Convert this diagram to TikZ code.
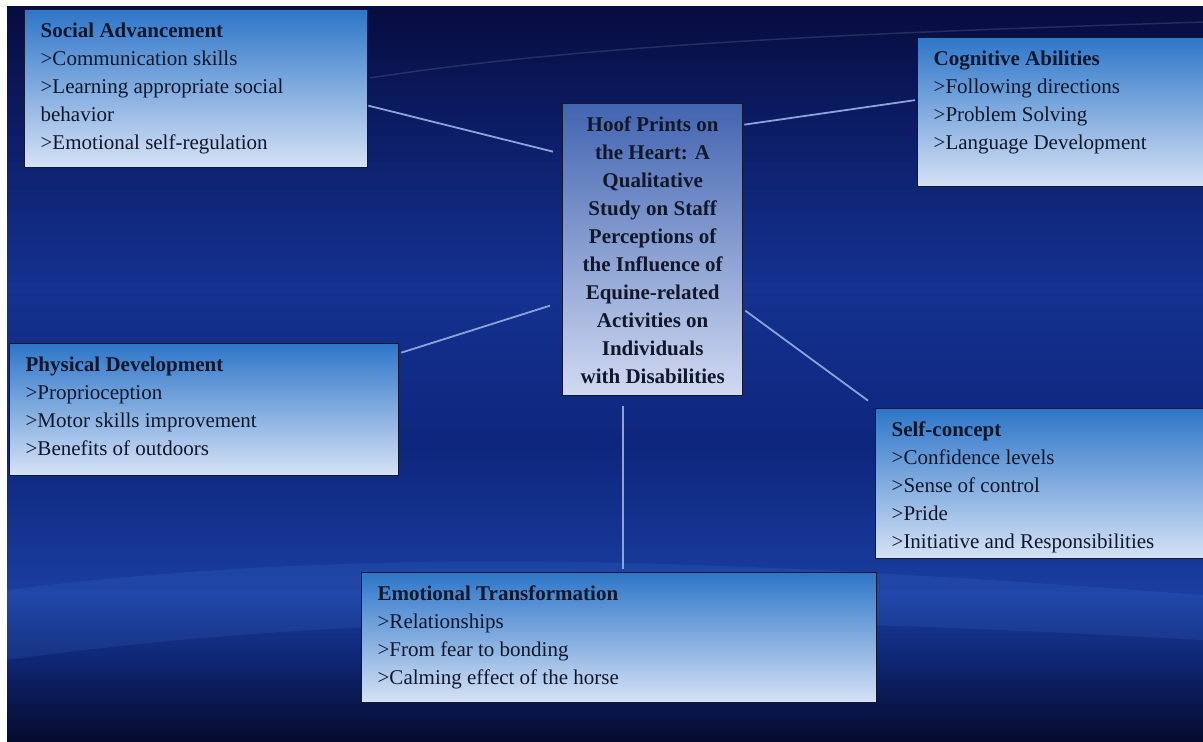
\documentclass[tikz,border=0pt]{standalone}
\usepackage{fontspec}
\setmainfont{Liberation Serif}
\usetikzlibrary{positioning,calc}

\definecolor{ink}{RGB}{18,24,44}
\definecolor{edge}{RGB}{20,24,46}
\definecolor{panelTop}{RGB}{46,118,200}
\definecolor{panelBot}{RGB}{214,226,246}
\definecolor{hubTop}{RGB}{66,100,176}
\definecolor{hubBot}{RGB}{208,218,242}
\definecolor{linkBlue}{RGB}{140,162,218}
\definecolor{glow}{RGB}{70,130,225}
\definecolor{bgA}{RGB}{5,10,45}
\definecolor{bgB}{RGB}{16,40,120}
\definecolor{bgC}{RGB}{26,62,160}
\definecolor{bgD}{RGB}{14,38,125}
\definecolor{bgE}{RGB}{20,50,145}
\definecolor{bgF}{RGB}{12,28,100}
\definecolor{bgG}{RGB}{6,12,62}

% the path spans 25bp (bottom) to 75bp (top)
\pgfdeclareverticalshading{bgshade}{100bp}{%
  color(0bp)=(bgA); color(25bp)=(bgA); color(31bp)=(bgB); color(35bp)=(bgC);
  color(45bp)=(bgD); color(56bp)=(bgE); color(67bp)=(bgF);
  color(75bp)=(bgG); color(100bp)=(bgG)}

\tikzset{
  panel/.style={draw=edge, line width=1.3pt, anchor=north west,
    top color=panelTop, bottom color=panelBot,
    inner xsep=16pt, inner ysep=8pt, text=ink,
    font=\fontsize{21}{28}\selectfont},
  hub/.style={top color=hubTop, bottom color=hubBot, inner xsep=4pt},
  link/.style={draw=linkBlue, line width=1.8pt},
  swoosh/.style={fill=glow}
}

\begin{document}
\begin{tikzpicture}[x=1pt,y=-1pt]
  \useasboundingbox (0,0) rectangle (1203,742);
  \fill[white] (0,0) rectangle (1203,742);
  \shade[shading=bgshade] (7,6) rectangle (1203,742);

  % light streaks of the backdrop
  \fill[swoosh, opacity=0.14] (7,590) .. controls (400,540) and (800,565) .. (1203,595)
    -- (1203,640) .. controls (800,618) and (400,605) .. (7,660) -- cycle;
  \draw[white, line width=1.5pt, opacity=0.12] (370,78) .. controls (600,42) and (900,32) .. (1203,22);

  % topic boxes
  \node[panel] (soc) at (24,9) {\parbox[t][142pt][t]{311pt}{\raggedright\strut
    \textbf{Social Advancement}\\>Communication skills\\>Learning appropriate social\\behavior\\>Emotional self-regulation}};
  \node[panel] (cog) at (917,37) {\parbox[t][133pt][t]{258pt}{\raggedright\strut
    \textbf{Cognitive Abilities}\\>Following directions\\>Problem Solving\\>Language Development}};
  \node[panel] (phys) at (9,343) {\parbox[t][116pt][t]{357pt}{\raggedright\strut
    \textbf{Physical Development}\\>Proprioception\\>Motor skills improvement\\>Benefits of outdoors}};
  \node[panel] (self) at (875,408) {\parbox[t][134pt][t]{303pt}{\raggedright\strut
    \textbf{Self-concept}\\>Confidence levels\\>Sense of control\\>Pride\\>Initiative and Responsibilities}};
  \node[panel] (emo) at (361,572) {\parbox[t][114pt][t]{483pt}{\raggedright\strut
    \textbf{Emotional Transformation}\\>Relationships\\>From fear to bonding\\>Calming effect of the horse}};

  % study title in the middle
  \node[panel, hub] (hub) at (562,103) {\parbox[t][276pt][t]{172pt}{\centering\bfseries\strut
    Hoof Prints on\\the Heart: A\\Qualitative\\Study on Staff\\Perceptions of\\the Influence of\\Equine-related\\Activities on\\Individuals\\with Disabilities}};

  % spokes
  \draw[link] ([yshift=-17pt]soc.east) -- ([xshift=-9pt,yshift=98pt]hub.west);
  \draw[link] ([xshift=1pt,yshift=125pt]hub.east) -- ([xshift=-2pt,yshift=12pt]cog.west);
  \draw[link] ([xshift=2pt,yshift=57pt]phys.east) -- ([xshift=-12pt,yshift=-56pt]hub.west);
  \draw[link] ([xshift=2pt,yshift=-61pt]hub.east) -- ([xshift=-7pt,yshift=83pt]self.west);
  \coordinate (drop) at ([xshift=-30pt,yshift=-10pt]hub.south);
  \draw[link, shorten >=3pt] (drop) -- (drop |- emo.north);
\end{tikzpicture}
\end{document}
